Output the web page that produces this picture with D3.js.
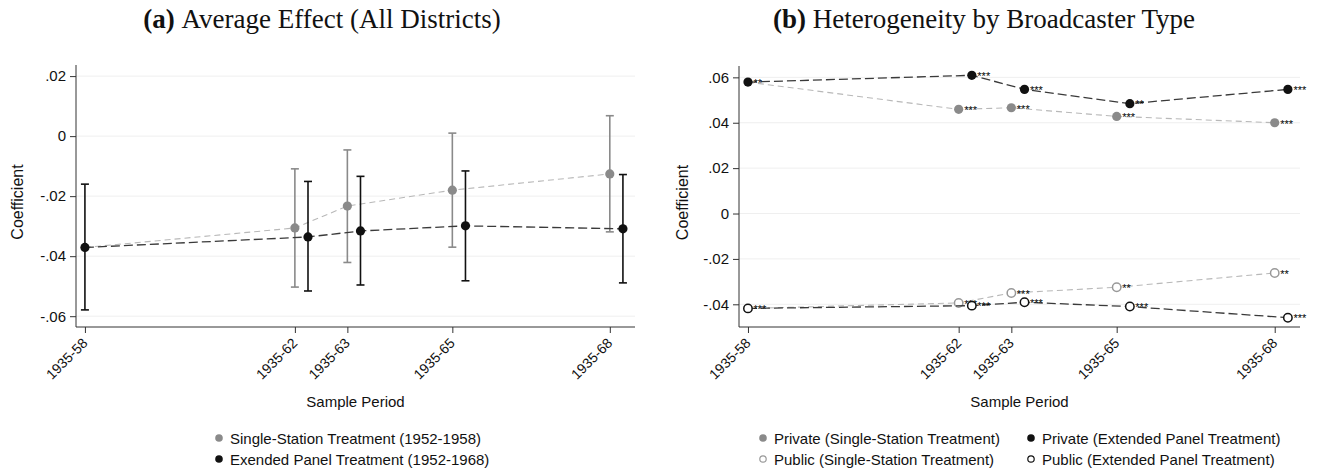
<!DOCTYPE html>
<html>
<head>
<meta charset="utf-8">
<script src="https://cdn.jsdelivr.net/npm/d3@7"></script>
<style>
  body { margin: 0; background: #fff; }
  svg { display: block; }
  .tick text { font-family: "Liberation Sans", Arial, sans-serif; }
</style>
</head>
<body>
<svg id="chart" width="1320" height="473"></svg>
<script>
// sample periods (end year of 1935-xx)
const periods = [58, 62, 63, 65, 68];
const periodLabels = ["1935-58", "1935-62", "1935-63", "1935-65", "1935-68"];

// panel (a)
const singleCoef = [-0.0371, -0.0306, -0.0233, -0.0180, -0.0126];
const singleLo   = [-0.0579, -0.0503, -0.0421, -0.0370, -0.0319];
const singleHi   = [-0.0160, -0.0109, -0.0046,  0.0010,  0.0068];
const extCoef    = [-0.0371, -0.0336, -0.0316, -0.0299, -0.0309];
const extLo      = [-0.0579, -0.0516, -0.0496, -0.0482, -0.0489];
const extHi      = [-0.0160, -0.0151, -0.0134, -0.0116, -0.0128];
const ticksA = [0.02, 0, -0.02, -0.04, -0.06];

// panel (b)
const privSingle = [0.0579, 0.0459, 0.0466, 0.0428, 0.0400];
const privExt    = [0.0579, 0.0609, 0.0547, 0.0484, 0.0547];
const pubSingle  = [-0.0418, -0.0394, -0.0350, -0.0325, -0.0262];
const pubExt     = [-0.0418, -0.0406, -0.0391, -0.0410, -0.0459];
const starsPrivSingle = ["**", "***", "***", "***", "***"];
const starsPrivExt    = ["**", "***", "***", "**", "***"];
const starsPubSingle  = ["***", "***", "***", "**", "**"];
const starsPubExt     = ["***", "***", "***", "***", "***"];
const ticksB = [0.06, 0.04, 0.02, 0, -0.02, -0.04];

const OFFSET = 0.25; // horizontal shift of extended-panel estimates
const GRAY = "#8a8a8a", GRAYLINE = "#b8b8b8", DARK = "#111", DARKLINE = "#3a3a3a";
const SANS = "'Liberation Sans', Arial, sans-serif";

const svg = d3.select("#chart");

function fmt(v) {
  if (Math.abs(v) < 1e-9) return "0";
  return (v < 0 ? "-" : "") + Math.abs(v).toFixed(2).replace(/^0/, "");
}

function panel(o) {
  const x = d3.scaleLinear().domain([57.83, 68.48]).range([o.left, o.right]);
  const y = d3.scaleLinear().domain(o.ydom).range([o.bottom, o.top]);
  const g = svg.append("g");

  // gridlines
  g.append("g").selectAll("line").data(o.ticks).join("line")
    .attr("x1", o.left).attr("x2", o.right)
    .attr("y1", d => y(d)).attr("y2", d => y(d))
    .attr("stroke", "#efefef").attr("stroke-width", 1);

  const yAxis = g.append("g")
    .attr("transform", `translate(${o.left},0)`)
    .call(d3.axisLeft(y).tickValues(o.ticks).tickFormat(fmt).tickSize(6).tickPadding(4));
  yAxis.select(".domain").attr("stroke", "#333").attr("d", `M0,${o.top}V${o.bottom}`);
  yAxis.selectAll(".tick line").attr("stroke", "#333");
  yAxis.selectAll(".tick text").attr("font-size", 15).attr("fill", "#111");

  const xAxis = g.append("g")
    .attr("transform", `translate(0,${o.bottom})`)
    .call(d3.axisBottom(x).tickValues(periods).tickFormat((d, i) => periodLabels[i]).tickSize(6));
  xAxis.select(".domain").attr("stroke", "#333").attr("d", `M${o.left},0H${o.right}`);
  xAxis.selectAll(".tick line").attr("stroke", "#333");
  xAxis.selectAll(".tick text")
    .attr("font-size", 14).attr("fill", "#111")
    .attr("text-anchor", "end")
    .attr("x", 0).attr("y", 0).attr("dy", 0)
    .attr("transform", "translate(3,17) rotate(-45)");

  const cx = (o.left + o.right) / 2;
  g.append("text")
    .attr("transform", `translate(${o.ylabX},${(o.top + o.bottom) / 2 + 6}) rotate(-90)`)
    .attr("text-anchor", "middle").attr("font-family", SANS).attr("font-size", 16)
    .attr("fill", "#111").text("Coefficient");
  g.append("text")
    .attr("x", cx).attr("y", 407)
    .attr("text-anchor", "middle").attr("font-family", SANS).attr("font-size", 15)
    .attr("fill", "#111").text("Sample Period");

  const title = g.append("text")
    .attr("x", o.titleX).attr("y", 28).attr("text-anchor", "middle")
    .attr("font-family", "'Liberation Serif', 'DejaVu Serif', serif").attr("font-size", 27)
    .attr("fill", "#111");
  title.append("tspan").attr("font-weight", "bold").text(o.titleTag + " ");
  title.append("tspan").text(o.title);

  return { g, x, y, cx };
}

function series(p, vals, opts) {
  const pts = periods.map((yr, i) => ({ yr: yr + (i > 0 ? opts.dx : 0), v: vals[i], i }));
  const line = d3.line().x(d => p.x(d.yr)).y(d => p.y(d.v));
  p.g.append("path").datum(pts)
    .attr("d", line).attr("fill", "none")
    .attr("stroke", opts.line).attr("stroke-width", opts.lw)
    .attr("stroke-dasharray", opts.dash);
  return pts;
}

// ---------------- panel (a)
const pa = panel({
  left: 76, right: 635, top: 65, bottom: 327, ydom: [-0.0636, 0.0237], ticks: ticksA,
  ylabX: 23, titleX: 322, titleTag: "(a)", title: "Average Effect (All Districts)"
});

function ciSeries(p, coef, lo, hi, dx, color, lineColor, dash, lw, skipFirst) {
  const pts = series(p, coef, { dx, line: lineColor, dash, lw });
  const shown = pts.filter(d => !(skipFirst && d.i === 0));
  const bars = p.g.append("g").attr("stroke", color).attr("stroke-width", 1.6);
  shown.forEach(d => {
    const cx = p.x(d.yr), y1 = p.y(lo[d.i]), y2 = p.y(hi[d.i]);
    bars.append("line").attr("x1", cx).attr("x2", cx).attr("y1", y1).attr("y2", y2);
    bars.append("line").attr("x1", cx - 4).attr("x2", cx + 4).attr("y1", y1).attr("y2", y1);
    bars.append("line").attr("x1", cx - 4).attr("x2", cx + 4).attr("y1", y2).attr("y2", y2);
  });
  p.g.append("g").selectAll("circle").data(shown).join("circle")
    .attr("cx", d => p.x(d.yr)).attr("cy", d => p.y(d.v)).attr("r", 4.6)
    .attr("fill", color);
}
ciSeries(pa, singleCoef, singleLo, singleHi, 0, GRAY, GRAYLINE, "6,4", 1.1, true);
ciSeries(pa, extCoef, extLo, extHi, OFFSET, DARK, DARKLINE, "9,4", 1.3, false);

// legend (a)
const legA = [
  { label: "Single-Station Treatment (1952-1958)", fill: GRAY },
  { label: "Exended Panel Treatment (1952-1968)", fill: DARK }
];
legA.forEach((d, i) => {
  const yy = 438 + i * 21;
  svg.append("circle").attr("cx", 219).attr("cy", yy).attr("r", 3.8).attr("fill", d.fill);
  svg.append("text").attr("x", 230).attr("y", yy + 5.5).attr("font-family", SANS)
    .attr("font-size", 15).attr("fill", "#111").text(d.label);
});

// ---------------- panel (b)
const pb = panel({
  left: 739, right: 1300, top: 66, bottom: 327, ydom: [-0.0500, 0.0650], ticks: ticksB,
  ylabX: 688, titleX: 984, titleTag: "(b)", title: "Heterogeneity by Broadcaster Type"
});

function starSeries(p, vals, stars, opts) {
  const pts = series(p, vals, opts);
  const shown = pts.filter(d => !(opts.skipFirst && d.i === 0));
  p.g.append("g").selectAll("circle").data(shown).join("circle")
    .attr("cx", d => p.x(d.yr)).attr("cy", d => p.y(d.v)).attr("r", opts.hollow ? 4.2 : 4.6)
    .attr("fill", opts.hollow ? "#fff" : opts.color)
    .attr("stroke", opts.hollow ? opts.color : "none")
    .attr("stroke-width", 1.5);
  p.g.append("g").selectAll("text").data(shown).join("text")
    .attr("x", d => p.x(d.yr) + 5.5).attr("y", d => p.y(d.v) + 4.8)
    .attr("font-family", SANS).attr("font-size", 11).attr("fill", "#000")
    .text(d => stars[d.i]);
}
starSeries(pb, privSingle, starsPrivSingle, { dx: 0, line: GRAYLINE, dash: "6,4", lw: 1.1, color: GRAY, skipFirst: true });
starSeries(pb, pubSingle, starsPubSingle, { dx: 0, line: GRAYLINE, dash: "6,4", lw: 1.1, color: "#999", hollow: true, skipFirst: true });
starSeries(pb, privExt, starsPrivExt, { dx: OFFSET, line: DARKLINE, dash: "9,4", lw: 1.3, color: DARK });
starSeries(pb, pubExt, starsPubExt, { dx: OFFSET, line: DARKLINE, dash: "9,4", lw: 1.3, color: DARK, hollow: true });

// legend (b)
const legB = [
  { label: "Private (Single-Station Treatment)", fill: GRAY, stroke: "none", x: 763, row: 0 },
  { label: "Public (Single-Station Treatment)", fill: "#fff", stroke: "#999", x: 763, row: 1 },
  { label: "Private (Extended Panel Treatment)", fill: DARK, stroke: "none", x: 1031, row: 0 },
  { label: "Public (Extended Panel Treatment)", fill: "#fff", stroke: DARK, x: 1031, row: 1 }
];
legB.forEach(d => {
  const yy = 438 + d.row * 21;
  svg.append("circle").attr("cx", d.x).attr("cy", yy).attr("r", d.stroke === "none" ? 3.8 : 3.2)
    .attr("fill", d.fill).attr("stroke", d.stroke).attr("stroke-width", 1.2);
  svg.append("text").attr("x", d.x + 11).attr("y", yy + 5.5).attr("font-family", SANS)
    .attr("font-size", 15).attr("fill", "#111").text(d.label);
});
</script>
</body>
</html>
